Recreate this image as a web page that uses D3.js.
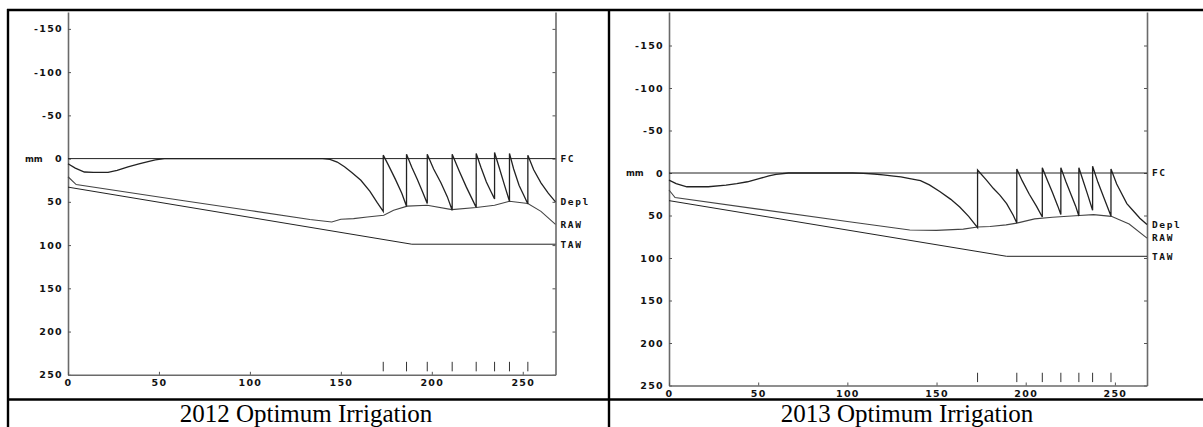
<!DOCTYPE html>
<html>
<head>
<meta charset="utf-8">
<script src="https://cdn.jsdelivr.net/npm/d3@7"></script>
<style>
  html, body { margin: 0; padding: 0; background: #fff; }
  svg { display: block; }
  .tick text { font-family: "DejaVu Sans", sans-serif; font-weight: bold; font-size: 9.5px; letter-spacing: 1.3px; fill: #111; }
  .lbl { font-family: "DejaVu Sans Mono", monospace; font-weight: bold; font-size: 9.5px; letter-spacing: 1.6px; fill: #111; }
  .cap { font-family: "Liberation Serif", "Times New Roman", serif; font-size: 25px; fill: #000; }
</style>
</head>
<body>
<svg id="chart" width="1203" height="427"></svg>
<script>
// ---------------- data ----------------
const yTicks = [-150, -100, -50, 0, 50, 100, 150, 200, 250];
const xTicks = [0, 50, 100, 150, 200, 250];
const seriesLabels = ["FC", "Depl", "RAW", "TAW"];
const captions = ["2012 Optimum Irrigation", "2013 Optimum Irrigation"];

// day, mm depletion
const dep2012 = [
  [0,6],[4,11],[9,15.5],[14,16],[22,16],[27,13.5],[33,9.5],[39,6],[44,3.5],[48,1.5],[53,0],
  [140,0],[144,1],[148,4],[152,9.5],[156,16],[161,25],[166,38],[170,51],[173.3,61],
  [173.3,-4],[176,7],[180,24],[183.5,40],[186.1,55],
  [186.1,-5],[189,10],[192,24],[195,39],[197.5,52],
  [197.5,-5],[201,12],[205,28],[208.5,44],[211.2,59.7],
  [211.2,-5],[215,14],[219,33],[222,46],[224.4,56.6],
  [224.4,-6],[227,10],[230,27],[232.5,38],[234.5,46.6],
  [234.5,-7],[237,10],[240,31],[242.7,49.3],
  [242.7,-6],[245,12],[248,31],[250.5,42],[252.8,52.4],
  [252.8,-4],[256,13],[260,28],[264,40],[268,50]
];
const raw2012 = [
  [0,21],[4.5,30],[60,47.5],[100,60],[133,70.5],[145,73.3],[150,70.2],[157,69.4],[164.5,67.5],
  [173.6,65.5],[179,59.7],[186.5,55],[197.5,54],[211,59],[224.4,56.6],[234.5,54],[242.7,49.3],
  [252.8,52],[260,61],[268,76]
];
const taw2012 = [[0,33],[189,99],[268,99]];
const irr2012 = [173.3, 186.1, 197.5, 211.2, 224.4, 234.5, 242.7, 252.8];

const dep2013 = [
  [0,8.3],[4,12.5],[10,16.2],[22,16.2],[32,14.2],[38,12.5],[44,10.3],[51,6.3],[56,3.5],[60,1.5],[67,0],
  [103,0],[109,0.5],[115,1.2],[120,2.3],[126,3.6],[130,4.6],[135,6.5],[141,9],[146,14],[152,22],
  [158,31],[163,40],[168,51],[173,64.3],
  [173,-3.5],[178,8.3],[181.8,18],[185.5,26],[189.3,36],[193,49.7],[195,58.8],
  [195,-4.7],[198,9],[202,25],[206,39],[209.3,51.7],
  [209.3,-6.3],[212,8],[215,23],[218,39],[219.7,48.9],
  [219.7,-6.3],[222.5,10],[225.5,26],[228,39],[229.8,50.5],
  [229.8,-6.3],[232,8],[234.5,24],[237.5,43.8],
  [237.5,-7.9],[240.5,11],[244,30],[247.8,50.5],
  [247.8,-4.7],[251,13],[256.7,36],[260.5,45],[264,53.3],[268,60.7]
];
const raw2013 = [
  [0,20],[3.4,28.8],[50,42.5],[100,57],[135,67],[150,67.5],[165,66],[173,63.5],[180,63],
  [189,61],[195,59],[205,54],[215,52],[230,50],[238,49],[248,51],[258,60],[268,76.6]
];
const taw2013 = [[0,32.5],[189.3,98],[268,98]];
const irr2013 = [173, 195, 209.3, 219.7, 229.8, 237.5, 247.8];

const irrMark = [235, 246];   // mm range of the irrigation tick marks
const dayDomain = [0, 268];

// ---------------- drawing ----------------
const svg = d3.select("#chart");
svg.append("rect").attr("width", 1203).attr("height", 427).attr("fill", "#fff");

const panels = [
  { dep: dep2012, raw: raw2012, taw: taw2012, irr: irr2012, cap: captions[0],
    xr: [68, 555.5], yTop: 12, y0: 158.6, y250: 374.8, capX: 306, mmX: 25 },
  { dep: dep2013, raw: raw2013, taw: taw2013, irr: irr2013, cap: captions[1],
    xr: [669, 1147], yTop: 12, y0: 173, y250: 385.5, capX: 907, mmX: 626 }
];

panels.forEach(p => {
  const g = svg.append("g");
  const pxPerMm = (p.y250 - p.y0) / 250;
  const yMin = -(p.y0 - p.yTop) / pxPerMm;
  const x = d3.scaleLinear().domain(dayDomain).range(p.xr);
  const y = d3.scaleLinear().domain([yMin, 250]).range([p.yTop, p.y250]);

  const line = d3.line().x(d => x(d[0])).y(d => y(d[1]));

  // axes
  const fmt = d => String(d);
  const ax = [
    g.append("g").attr("transform", `translate(${p.xr[0]},0)`)
      .call(d3.axisLeft(y).tickValues(yTicks).tickSize(-3).tickSizeOuter(0).tickPadding(5).tickFormat(fmt)),
    g.append("g").attr("transform", `translate(${p.xr[1]},0)`)
      .call(d3.axisRight(y).tickValues(yTicks).tickSize(-3).tickSizeOuter(0).tickFormat("")),
    g.append("g").attr("transform", `translate(0,${y(250)})`)
      .call(d3.axisBottom(x).tickValues(xTicks).tickSize(-3).tickSizeOuter(0).tickPadding(4.5).tickFormat(fmt))
  ];
  ax.forEach(a => {
    a.select(".domain").attr("stroke", "#6a6a6a").attr("stroke-width", 1.6);
    a.selectAll(".tick line").attr("stroke", "#555").attr("stroke-width", 1);
    a.selectAll(".tick text").attr("font-family", null).attr("font-size", null);
  });

  // mm label
  g.append("text").attr("class", "lbl").attr("x", p.mmX).attr("y", y(0))
    .attr("dy", "0.35em").style("font-family", "DejaVu Sans").style("font-size", "8.5px")
    .style("letter-spacing", "0px").text("mm");

  // FC line
  g.append("line").attr("x1", x(0)).attr("x2", x(dayDomain[1]))
    .attr("y1", y(0)).attr("y2", y(0)).attr("stroke", "#222").attr("stroke-width", 1);

  // TAW, RAW, Depl
  g.append("path").datum(p.taw).attr("d", line).attr("fill", "none")
    .attr("stroke", "#222").attr("stroke-width", 1);
  g.append("path").datum(p.raw).attr("d", line).attr("fill", "none")
    .attr("stroke", "#444").attr("stroke-width", 1.1);
  g.append("path").datum(p.dep).attr("d", line).attr("fill", "none")
    .attr("stroke", "#222").attr("stroke-width", 1.3);

  // irrigation marks
  g.selectAll(".irr").data(p.irr).enter().append("line")
    .attr("x1", d => x(d)).attr("x2", d => x(d))
    .attr("y1", y(irrMark[0])).attr("y2", y(irrMark[1]))
    .attr("stroke", "#333").attr("stroke-width", 1);

  // right-side labels
  const lblVals = [0, p.dep[p.dep.length - 1][1], p.raw[p.raw.length - 1][1], p.taw[p.taw.length - 1][1]];
  seriesLabels.forEach((t, i) => {
    g.append("text").attr("class", "lbl").attr("x", p.xr[1] + 5).attr("y", y(lblVals[i]))
      .attr("dy", "0.35em").text(t);
  });

  // caption
  svg.append("text").attr("class", "cap").attr("x", p.capX).attr("y", 421.5)
    .attr("text-anchor", "middle").text(p.cap);
});

// table borders
const borders = svg.append("g").attr("stroke", "#000").attr("stroke-width", 2.4);
borders.append("line").attr("x1", 7).attr("x2", 1203).attr("y1", 10).attr("y2", 10);
borders.append("line").attr("x1", 8).attr("x2", 8).attr("y1", 9).attr("y2", 427);
borders.append("line").attr("x1", 609).attr("x2", 609).attr("y1", 9).attr("y2", 427);
borders.append("line").attr("x1", 7).attr("x2", 1203).attr("y1", 399.5).attr("y2", 399.5);
</script>
</body>
</html>
